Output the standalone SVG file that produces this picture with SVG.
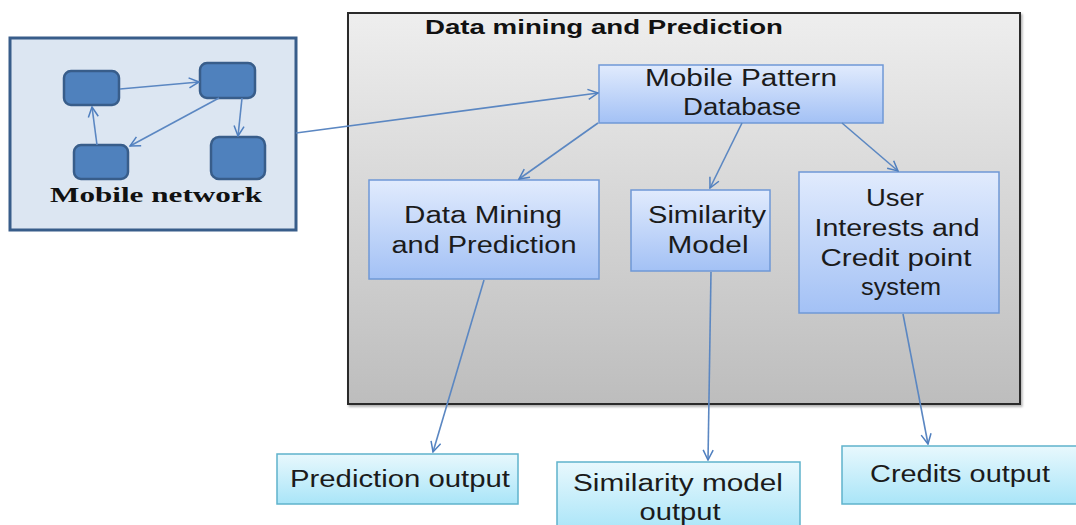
<svg xmlns="http://www.w3.org/2000/svg" width="1076" height="525" viewBox="0 0 1076 525">
<defs>
<linearGradient id="gGrey" x1="0" y1="0" x2="0" y2="1"><stop offset="0" stop-color="#eeeeee"/><stop offset="1" stop-color="#bdbdbd"/></linearGradient>
<linearGradient id="gBlue" x1="0" y1="0" x2="0" y2="1"><stop offset="0" stop-color="#e1ebfd"/><stop offset="1" stop-color="#a3c1f5"/></linearGradient>
<linearGradient id="gCyan" x1="0" y1="0" x2="0" y2="1"><stop offset="0" stop-color="#e8f8fd"/><stop offset="1" stop-color="#a9e5f8"/></linearGradient>
<marker id="arr" viewBox="0 0 12 12" refX="11" refY="6" markerWidth="12" markerHeight="12" markerUnits="userSpaceOnUse" orient="auto">
<path d="M1,1 L11,6 L1,11" fill="none" stroke="#4f7fbf" stroke-width="1.5"/>
</marker>
<filter id="sh" x="-5%" y="-5%" width="110%" height="115%"><feDropShadow dx="1.5" dy="2" stdDeviation="1.2" flood-color="#000" flood-opacity="0.3"/></filter>
</defs>
<style>
.lbl{font-family:"Liberation Sans",Arial,sans-serif;font-size:23px;fill:#1b1b1b;text-anchor:middle}
.blue{fill:url(#gBlue);stroke:#6f98d6;stroke-width:1.5}
.cyan{fill:url(#gCyan);stroke:#5fb3cc;stroke-width:1.5}
.mn{fill:#4f81bd;stroke:#385d8a;stroke-width:2.5}
.con{fill:none;stroke:#5b87c2;stroke-width:1.6;marker-end:url(#arr)}
</style>
<rect width="1076" height="525" fill="#ffffff"/>

<g id="data-mining-container">
<rect x="348" y="13" width="672" height="391" fill="url(#gGrey)" stroke="#2b2b2b" stroke-width="2" filter="url(#sh)"/>
<text x="604" y="34" font-family="'Liberation Sans',Arial,sans-serif" font-size="21" font-weight="bold" fill="#111" text-anchor="middle" textLength="358" lengthAdjust="spacingAndGlyphs">Data mining and Prediction</text>
</g>

<g id="mobile-network">
<rect x="10" y="38" width="286" height="192" fill="#dce6f2" stroke="#385d8a" stroke-width="3"/>
<rect class="mn" x="64" y="71" width="55" height="34" rx="7"/>
<rect class="mn" x="200" y="63" width="55" height="35" rx="7"/>
<rect class="mn" x="74" y="145" width="54" height="34" rx="7"/>
<rect class="mn" x="211" y="137" width="54" height="42" rx="8"/>
<line class="con" x1="120" y1="89" x2="199" y2="82"/>
<line class="con" x1="242" y1="98" x2="238" y2="136"/>
<line class="con" x1="219" y1="98" x2="130" y2="146"/>
<line class="con" x1="97" y1="145" x2="92" y2="107"/>
<text x="156" y="202" font-family="'Liberation Serif','Times New Roman',serif" font-size="22" font-weight="bold" fill="#111" text-anchor="middle" textLength="212" lengthAdjust="spacingAndGlyphs">Mobile network</text>
</g>

<g id="mobile-pattern-db">
<rect class="blue" x="599" y="65" width="284" height="58"/>
<text class="lbl" x="741" y="86" textLength="192" lengthAdjust="spacingAndGlyphs">Mobile Pattern</text>
<text class="lbl" x="742" y="115" textLength="118" lengthAdjust="spacingAndGlyphs">Database</text>
</g>

<g id="data-mining-prediction">
<rect class="blue" x="369" y="180" width="230" height="99"/>
<text class="lbl" x="483" y="223" textLength="158" lengthAdjust="spacingAndGlyphs">Data Mining</text>
<text class="lbl" x="484" y="253" textLength="185" lengthAdjust="spacingAndGlyphs">and Prediction</text>
</g>

<g id="similarity-model">
<rect class="blue" x="631" y="190" width="139" height="81"/>
<text class="lbl" x="707" y="223" textLength="118" lengthAdjust="spacingAndGlyphs">Similarity</text>
<text class="lbl" x="708" y="253" textLength="81" lengthAdjust="spacingAndGlyphs">Model</text>
</g>

<g id="user-interests">
<rect class="blue" x="799" y="172" width="200" height="141"/>
<text class="lbl" x="895" y="206" textLength="58" lengthAdjust="spacingAndGlyphs">User</text>
<text class="lbl" x="897" y="236" textLength="165" lengthAdjust="spacingAndGlyphs">Interests and</text>
<text class="lbl" x="896" y="266" textLength="151" lengthAdjust="spacingAndGlyphs">Credit point</text>
<text class="lbl" x="901" y="295" textLength="80" lengthAdjust="spacingAndGlyphs">system</text>
</g>

<g id="prediction-output">
<rect class="cyan" x="277" y="454" width="241" height="50"/>
<text class="lbl" x="400" y="487" textLength="220" lengthAdjust="spacingAndGlyphs">Prediction output</text>
</g>

<g id="similarity-model-output">
<rect class="cyan" x="557" y="462" width="243" height="70"/>
<text class="lbl" x="678" y="491" textLength="210" lengthAdjust="spacingAndGlyphs">Similarity model</text>
<text class="lbl" x="680" y="520" textLength="81" lengthAdjust="spacingAndGlyphs">output</text>
</g>

<g id="credits-output">
<rect class="cyan" x="842" y="446" width="240" height="58"/>
<text class="lbl" x="960" y="482" textLength="180" lengthAdjust="spacingAndGlyphs">Credits output</text>
</g>

<g id="connectors">
<line class="con" x1="296" y1="133" x2="598" y2="93"/>
<line class="con" x1="598" y1="123" x2="519" y2="179"/>
<line class="con" x1="742" y1="123" x2="710" y2="188"/>
<line class="con" x1="842" y1="123" x2="898" y2="171"/>
<line class="con" x1="484" y1="280" x2="433" y2="452"/>
<line class="con" x1="711" y1="272" x2="708" y2="460"/>
<line class="con" x1="903" y1="314" x2="928" y2="444"/>
</g>
</svg>
